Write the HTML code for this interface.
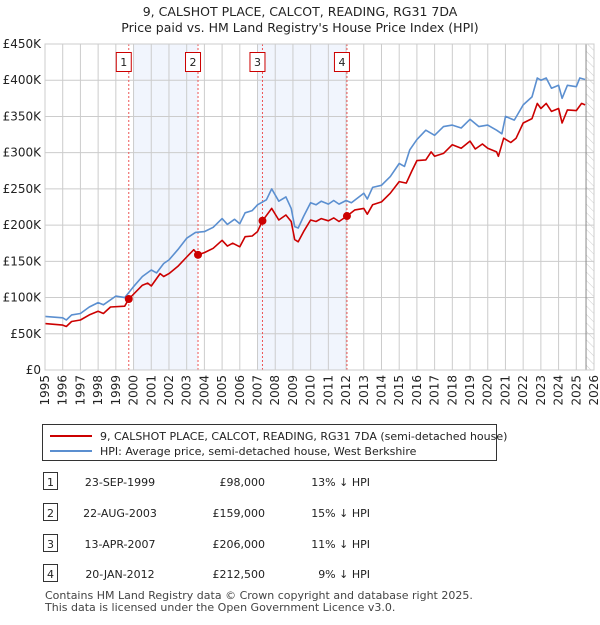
<!DOCTYPE html>
<html><head><meta charset="utf-8"><style>
body{margin:0;background:#fff;font-family:"Liberation Sans","DejaVu Sans",sans-serif;}
svg text{font-family:"DejaVu Sans","Liberation Sans",sans-serif;}
</style></head><body>
<svg id="c" width="600" height="620" xmlns="http://www.w3.org/2000/svg">
<defs><pattern id="hatch" width="6" height="6" patternUnits="userSpaceOnUse" patternTransform="rotate(-45)"><line x1="0" y1="0" x2="0" y2="6" stroke="#ccc" stroke-width="1"/></pattern></defs>
<text x="300" y="16" text-anchor="middle" font-size="12.5" fill="#222">9, CALSHOT PLACE, CALCOT, READING, RG31 7DA</text>
<text x="300" y="32" text-anchor="middle" font-size="12.5" fill="#222">Price paid vs. HM Land Registry's House Price Index (HPI)</text>
<g id="plot"></g>
<g>
<rect x="42.5" y="424.5" width="454" height="36" fill="#fff" stroke="#333"/>
<line x1="50" y1="436" x2="92" y2="436" stroke="#cc0000" stroke-width="2"/>
<text x="100" y="440" font-size="11" fill="#222">9, CALSHOT PLACE, CALCOT, READING, RG31 7DA (semi-detached house)</text>
<line x1="50" y1="451" x2="92" y2="451" stroke="#5b8fd0" stroke-width="2"/>
<text x="100" y="455" font-size="11" fill="#222">HPI: Average price, semi-detached house, West Berkshire</text>
</g>
<g id="tbl" font-size="11" fill="#222"></g>
<text x="45" y="599" font-size="11" fill="#444">Contains HM Land Registry data © Crown copyright and database right 2025.</text>
<text x="45" y="611" font-size="11" fill="#444">This data is licensed under the Open Government Licence v3.0.</text>
</svg>
<script>
const yTicks=[0,50,100,150,200,250,300,350,400,450];
const yTickLabels=["£0","£50K","£100K","£150K","£200K","£250K","£300K","£350K","£400K","£450K"];
const years=[1995,1996,1997,1998,1999,2000,2001,2002,2003,2004,2005,2006,2007,2008,2009,2010,2011,2012,2013,2014,2015,2016,2017,2018,2019,2020,2021,2022,2023,2024,2025,2026];
const hpiT=[1995,1996,1996.2,1996.5,1997,1997.5,1998,1998.3,1999,1999.5,2000,2000.5,2001,2001.3,2001.7,2002,2002.5,2003,2003.5,2004,2004.5,2005,2005.3,2005.7,2006,2006.3,2006.7,2007,2007.5,2007.8,2008.2,2008.6,2008.9,2009.1,2009.3,2009.6,2010,2010.3,2010.6,2011,2011.3,2011.6,2012,2012.3,2013,2013.2,2013.5,2014,2014.5,2015,2015.3,2015.6,2016,2016.5,2017,2017.5,2018,2018.5,2019,2019.5,2020,2020.5,2020.8,2021,2021.5,2022,2022.5,2022.8,2023,2023.3,2023.6,2024,2024.2,2024.5,2025,2025.2,2025.5];
const hpiV=[74,72,69,76,78,87,93,90,102,100,115,129,138,134,147,152,166,182,190,191,197,209,201,208,202,217,220,228,235,250,233,239,223,198,196,212,231,228,233,229,234,229,234,231,244,236,252,255,267,285,281,304,318,331,324,336,338,334,346,336,338,331,326,350,345,366,377,403,400,403,389,393,375,393,391,403,401];
const priceT=[1995,1996,1996.2,1996.5,1997,1997.5,1998,1998.3,1998.7,1999.5,1999.73,2000.5,2000.8,2001,2001.5,2001.7,2002,2002.5,2003,2003.4,2003.64,2004,2004.5,2005,2005.3,2005.6,2006,2006.3,2006.7,2007,2007.28,2007.8,2008.2,2008.6,2008.9,2009.1,2009.3,2009.6,2010,2010.3,2010.6,2011,2011.3,2011.6,2012.05,2012.5,2013,2013.2,2013.5,2014,2014.5,2015,2015.4,2015.7,2016,2016.5,2016.8,2017,2017.5,2018,2018.5,2019,2019.3,2019.7,2020,2020.5,2020.6,2020.9,2021.3,2021.6,2022,2022.5,2022.8,2023,2023.3,2023.6,2024,2024.2,2024.5,2025,2025.3,2025.5];
const priceV=[64,62,60,67,69,76,81,78,87,88,98,117,120,116,133,129,133,143,156,166,159,162,168,179,171,175,170,184,185,191,206,223,207,214,205,180,177,191,207,205,209,206,210,205,212.5,221,223,215,228,232,244,260,258,274,289,290,301,295,299,311,306,316,305,312,306,301,295,320,314,320,341,347,368,361,368,357,361,341,359,358,368,366];
const saleLabels=["1","2","3","4"];
const saleT=[1999.73,2003.64,2007.28,2012.05];
const saleV=[98,159,206,212.5];
const saleDates=["23-SEP-1999","22-AUG-2003","13-APR-2007","20-JAN-2012"];
const salePrices=["£98,000","£159,000","£206,000","£212,500"];
const saleDiffs=["13% ↓ HPI","15% ↓ HPI","11% ↓ HPI","9% ↓ HPI"];

const X0=45,X1=594,Y0=370,Y1=44;
const sx=t=>X0+(t-1995)/(2026-1995)*(X1-X0);
const sy=v=>Y0-v/450*(Y0-Y1);
const NS="http://www.w3.org/2000/svg";
function mk(tag,attrs,parent,txt){const e=document.createElementNS(NS,tag);for(const k in attrs)e.setAttribute(k,attrs[k]);if(txt!==undefined)e.textContent=txt;parent.appendChild(e);return e;}
const g=document.getElementById('plot');
let s=mk('rect',{x:sx(2000),y:Y1,width:sx(saleT[1])-sx(2000),height:Y0-Y1,fill:'#eef3fc',opacity:0.8},g);


s=mk('rect',{x:sx(2007),y:Y1,width:sx(saleT[3])-sx(2007),height:Y0-Y1,fill:'#eef3fc',opacity:0.8},g);


s=mk('rect',{x:sx(2025.55),y:Y1,width:X1-sx(2025.55),height:Y0-Y1,fill:'url(#hatch)'},g);


yTicks.forEach((v,i)=>{
 mk('line',{x1:X0,x2:X1,y1:sy(v),y2:sy(v),stroke:'#cccccc','stroke-width':1},g);
 const t=mk('text',{x:X0-4,y:sy(v)+4,'text-anchor':'end','font-size':12,fill:'#222'},g,yTickLabels[i]);
 
 
});
years.forEach(y=>{
 mk('line',{x1:sx(y),x2:sx(y),y1:Y1,y2:Y0,stroke:'#cccccc','stroke-width':1},g);
 const t=mk('text',{x:0,y:0,'text-anchor':'end','font-size':12,fill:'#222',transform:`translate(${sx(y)+4},${Y0+5}) rotate(-90)`},g,String(y));
 
 
});
mk('line',{x1:sx(2025.55),x2:sx(2025.55),y1:Y1,y2:Y0,stroke:'#888','stroke-width':1},g);
saleT.forEach((t,i)=>{
 const l=mk('line',{x1:sx(t),x2:sx(t),y1:Y1,y2:Y0,stroke:'#e55','stroke-width':1,'stroke-dasharray':'2,2'},g);
 
 
 const r=mk('rect',{x:sx(t)-12.5,y:52.5,width:15,height:19,fill:'#fff',stroke:'#cc0000'},g);
 
 
 mk('text',{x:sx(t)-5,y:66,'text-anchor':'middle','font-size':11,fill:'#222'},g,saleLabels[i]);
});
function line(T,V,col,name){const d=T.map((t,i)=>(i?'L':'M')+sx(t).toFixed(1)+','+sy(V[i]).toFixed(1)).join('');
 const p=mk('path',{d:d,fill:'none',stroke:col,'stroke-width':1.6,'stroke-linejoin':'round'},g);
 
 }
line(hpiT,hpiV,'#5b8fd0','hpi-line');
line(priceT,priceV,'#cc0000','price-line');
saleT.forEach((t,i)=>{const c=mk('circle',{cx:sx(t),cy:sy(saleV[i]),r:4,fill:'#cc0000'},g);
 
 });
mk('rect',{x:X0,y:Y1,width:X1-X0,height:Y0-Y1,fill:'none',stroke:'#cccccc'},g);
const tb=document.getElementById('tbl');
const rowY=[483,514,545,575];
saleLabels.forEach((l,i)=>{
 const y=rowY[i];
 const r=mk('rect',{x:43.5,y:y-10.5,width:14,height:17,fill:'#fff',stroke:'#333'},tb);
 
 
 mk('text',{x:50.5,y:y+3,'text-anchor':'middle'},tb,l);
 const a=mk('text',{x:120,y:y+3,'text-anchor':'middle'},tb,saleDates[i]);
 
 
 const b=mk('text',{x:265,y:y+3,'text-anchor':'end'},tb,salePrices[i]);
 
 
 const c=mk('text',{x:370,y:y+3,'text-anchor':'end'},tb,saleDiffs[i]);
 
 
});
</script>
</body></html>
